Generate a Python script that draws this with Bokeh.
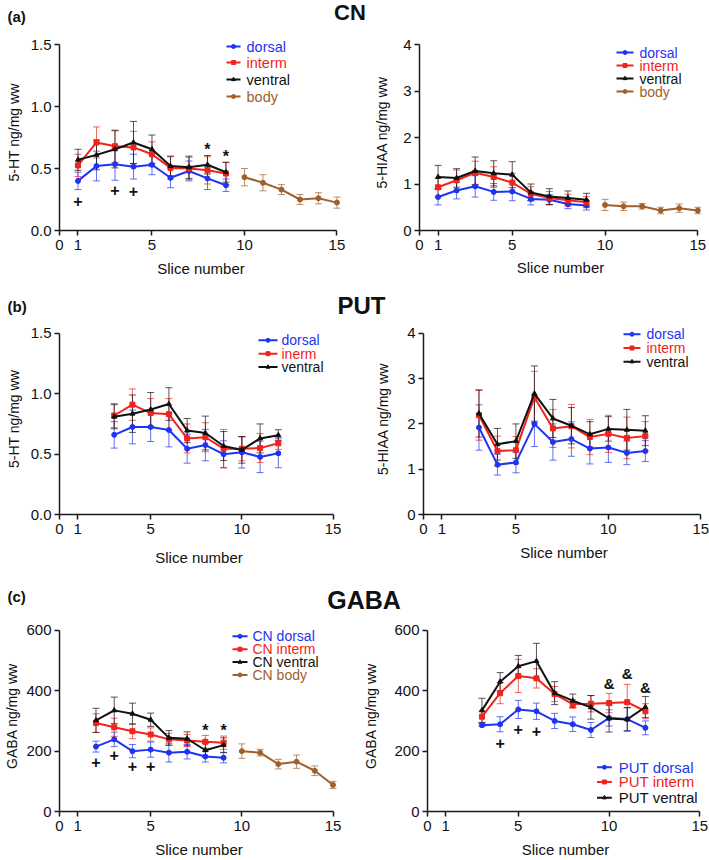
from bokeh.plotting import figure
from bokeh.models import Range1d, FixedTicker, Whisker, TeeHead, ColumnDataSource
from bokeh.layouts import column, row
from bokeh.embed import file_html
from bokeh.resources import INLINE
from bokeh.core.properties import value

# ---------------- data ----------------
x_ticks = [0, 1, 5, 10, 15]
x_tick_labels = ["0", "1", "5", "10", "15"]

ht_yticks = [0, 0.5, 1.0, 1.5]
ht_ytick_labels = ["0.0", "0.5", "1.0", "1.5"]
hiaa_yticks = [0, 1, 2, 3, 4]
hiaa_ytick_labels = ["0", "1", "2", "3", "4"]
gaba_yticks = [0, 200, 400, 600]
gaba_ytick_labels = ["0", "200", "400", "600"]

cn_slices = [1, 2, 3, 4, 5, 6, 7, 8, 9]
body_slices = [10, 11, 12, 13, 14, 15]
put_slices = [3, 4, 5, 6, 7, 8, 9, 10, 11, 12]
gaba_cn_slices = [2, 3, 4, 5, 6, 7, 8, 9]

# (a) 5-HT, CN
ht_cn_dorsal = [0.40, 0.52, 0.535, 0.515, 0.53, 0.425, 0.48, 0.42, 0.365]
ht_cn_dorsal_err = [0.07, 0.12, 0.13, 0.10, 0.08, 0.08, 0.08, 0.09, 0.05]
ht_cn_interm = [0.525, 0.71, 0.68, 0.67, 0.615, 0.505, 0.50, 0.485, 0.46]
ht_cn_interm_err = [0.09, 0.125, 0.13, 0.13, 0.10, 0.09, 0.09, 0.11, 0.09]
ht_cn_ventral = [0.57, 0.61, 0.655, 0.71, 0.655, 0.52, 0.51, 0.53, 0.47]
ht_cn_ventral_err = [0.085, 0.12, 0.15, 0.17, 0.115, 0.08, 0.09, 0.075, 0.08]
ht_cn_body = [0.43, 0.385, 0.33, 0.25, 0.26, 0.225]
ht_cn_body_err = [0.07, 0.065, 0.04, 0.04, 0.045, 0.045]
ht_cn_plus_x = [1, 3, 4]
ht_cn_plus_y = [0.235, 0.33, 0.32]
ht_cn_star_x = [8, 9]
ht_cn_star_y = [0.65, 0.60]

# (a) 5-HIAA, CN
hiaa_cn_dorsal = [0.72, 0.86, 0.95, 0.83, 0.84, 0.68, 0.66, 0.57, 0.54]
hiaa_cn_dorsal_err = [0.17, 0.18, 0.23, 0.18, 0.20, 0.13, 0.11, 0.10, 0.10]
hiaa_cn_interm = [0.93, 1.08, 1.24, 1.15, 1.03, 0.79, 0.70, 0.65, 0.61]
hiaa_cn_interm_err = [0.20, 0.22, 0.25, 0.22, 0.20, 0.15, 0.14, 0.13, 0.12]
hiaa_cn_ventral = [1.15, 1.13, 1.28, 1.23, 1.20, 0.82, 0.73, 0.70, 0.66]
hiaa_cn_ventral_err = [0.25, 0.20, 0.30, 0.27, 0.28, 0.18, 0.17, 0.15, 0.14]
hiaa_cn_body = [0.55, 0.52, 0.52, 0.43, 0.48, 0.43]
hiaa_cn_body_err = [0.12, 0.09, 0.06, 0.07, 0.09, 0.07]

# (b) 5-HT, PUT
ht_put_dorsal = [0.66, 0.725, 0.725, 0.70, 0.545, 0.575, 0.50, 0.515, 0.477, 0.507]
ht_put_dorsal_err = [0.11, 0.14, 0.12, 0.14, 0.12, 0.13, 0.11, 0.13, 0.13, 0.12]
ht_put_interm = [0.82, 0.91, 0.84, 0.83, 0.63, 0.64, 0.545, 0.545, 0.55, 0.59]
ht_put_interm_err = [0.10, 0.13, 0.12, 0.13, 0.12, 0.12, 0.16, 0.10, 0.12, 0.05]
ht_put_ventral = [0.81, 0.835, 0.87, 0.915, 0.695, 0.675, 0.567, 0.535, 0.63, 0.657]
ht_put_ventral_err = [0.10, 0.155, 0.14, 0.135, 0.10, 0.14, 0.12, 0.11, 0.12, 0.045]

# (b) 5-HIAA, PUT
hiaa_put_dorsal = [1.92, 1.10, 1.15, 2.00, 1.60, 1.665, 1.456, 1.48, 1.36, 1.40]
hiaa_put_dorsal_err = [0.50, 0.23, 0.23, 0.50, 0.40, 0.38, 0.34, 0.33, 0.26, 0.23]
hiaa_put_interm = [2.19, 1.40, 1.42, 2.59, 1.90, 1.95, 1.71, 1.78, 1.69, 1.73]
hiaa_put_interm_err = [0.55, 0.33, 0.30, 0.57, 0.42, 0.48, 0.39, 0.41, 0.46, 0.32]
hiaa_put_ventral = [2.23, 1.55, 1.62, 2.67, 2.12, 1.96, 1.77, 1.89, 1.87, 1.85]
hiaa_put_ventral_err = [0.52, 0.35, 0.38, 0.61, 0.42, 0.40, 0.28, 0.27, 0.45, 0.33]

# (c) GABA, CN
gaba_cn_dorsal = [215, 239, 200, 205, 195, 198, 182, 178]
gaba_cn_dorsal_err = [18, 24, 22, 25, 31, 24, 18, 17]
gaba_cn_interm = [293, 279, 266, 255, 239, 235, 231, 228]
gaba_cn_interm_err = [31, 30, 25, 22, 20, 20, 21, 22]
gaba_cn_ventral = [302, 335, 324, 304, 244, 241, 203, 220]
gaba_cn_ventral_err = [40, 44, 35, 22, 24, 23, 23, 24]
gaba_cn_body = [200, 195, 157, 165, 135, 88]
gaba_cn_body_err = [24, 11, 16, 22, 16, 12]
gaba_cn_plus_x = [2, 3, 4, 5]
gaba_cn_plus_y = [164, 186, 151, 151]
gaba_cn_star_x = [8, 9]
gaba_cn_star_y = [267, 267]

# (c) GABA, PUT
gaba_put_dorsal = [286, 289, 338, 332, 300, 289, 270, 310, 306, 277]
gaba_put_dorsal_err = [5, 25, 30, 27, 25, 24, 25, 27, 38, 23]
gaba_put_interm = [314, 392, 449, 441, 389, 356, 357, 359, 362, 332]
gaba_put_interm_err = [20, 35, 55, 32, 25, 14, 27, 32, 59, 25]
gaba_put_ventral = [335, 430, 481, 498, 392, 367, 345, 308, 305, 346]
gaba_put_ventral_err = [40, 30, 36, 59, 38, 22, 39, 45, 39, 35]
gaba_put_plus_x = [4, 5, 6]
gaba_put_plus_y = [226, 273, 268]
gaba_put_amp_x = [10, 11, 12]
gaba_put_amp_y = [424, 456, 412]

# ---------------- style ----------------
FONT = "Liberation Sans"
BLUE = "#1f33f2"
RED = "#f0241c"
BLACK = "#111111"
BROWN = "#a0602c"
TOP_PAD = 10  # px of frame above the top of the y axis


def make_panel(fig_w, fig_h, fig_x0, fig_y0, frame, xend, ymax, yticks, yticklabels,
               ylabel, series, legend, notes, ylab_standoff, xlab_standoff):
    left, top, right15, bottom = frame
    unit = (right15 - left) / 15.0
    bl = int(round(left - fig_x0))
    br = int(round(fig_w - bl - xend * unit))
    fw = fig_w - bl - br
    bt = int(round(top - TOP_PAD - fig_y0))
    bb = int(round(fig_y0 + fig_h - bottom))
    fh = fig_h - bt - bb
    yend = ymax * fh / float(bottom - top)

    p = figure(width=fig_w, height=fig_h, x_range=Range1d(0, xend), y_range=Range1d(0, yend),
               output_backend="svg", toolbar_location=None,
               min_border_left=bl, min_border_right=br, min_border_top=bt, min_border_bottom=bb)
    p.outline_line_color = None
    p.xgrid.visible = False
    p.ygrid.visible = False
    xa = p.xaxis[0]
    ya = p.yaxis[0]
    xa.ticker = FixedTicker(ticks=x_ticks)
    xa.major_label_overrides = {t: l for t, l in zip(x_ticks, x_tick_labels)}
    xa.bounds = (0, 15)
    ya.ticker = FixedTicker(ticks=yticks)
    ya.major_label_overrides = {t: l for t, l in zip(yticks, yticklabels)}
    ya.bounds = (0, ymax)
    xa.axis_label = "Slice number"
    ya.axis_label = ylabel
    for ax in (xa, ya):
        ax.axis_line_width = 1.5
        ax.axis_line_color = "#1a1a1a"
        ax.major_tick_line_width = 1.5
        ax.major_tick_line_color = "#1a1a1a"
        ax.major_tick_out = 5
        ax.major_tick_in = 0
        ax.minor_tick_line_color = None
        ax.major_label_text_font = FONT
        ax.major_label_text_font_size = "15px"
        ax.major_label_text_color = "#111111"
        ax.axis_label_text_font = FONT
        ax.axis_label_text_font_style = "normal"
        ax.axis_label_text_color = "#111111"
    xa.axis_label_text_font_size = "15px"
    ya.axis_label_text_font_size = "14px"
    xa.major_label_standoff = 4
    ya.major_label_standoff = 3
    xa.axis_label_standoff = xlab_standoff
    ya.axis_label_standoff = ylab_standoff

    for xs, ys, es, color, marker in series:
        src = ColumnDataSource(dict(x=xs, y=ys,
                                    lo=[y - e for y, e in zip(ys, es)],
                                    hi=[y + e for y, e in zip(ys, es)]))
        w = Whisker(source=src, base="x", upper="hi", lower="lo",
                    line_color=color, line_alpha=0.7, line_width=1,
                    upper_head=TeeHead(size=7, line_color=color, line_alpha=0.7, line_width=1),
                    lower_head=TeeHead(size=7, line_color=color, line_alpha=0.7, line_width=1))
        p.add_layout(w)
        p.line("x", "y", source=src, line_color=color, line_width=2)
        p.scatter("x", "y", source=src, marker=marker, size=5,
                  fill_color=color, line_color=color)

    # legend drawn as glyphs, positions given in page pixels and converted to data units
    gx0, gx1, tx, rows, fs, items = legend
    sx = xend / float(fw)
    sy = yend / float(fh)
    for ry, (label, color, marker) in zip(rows, items):
        yy = (bottom - ry) * sy
        p.segment(x0=[(gx0 - left) * sx], y0=[yy], x1=[(gx1 - left) * sx], y1=[yy],
                  line_color=color, line_width=2)
        p.scatter(x=[((gx0 + gx1) / 2.0 - left) * sx], y=[yy], marker=marker, size=4,
                  fill_color=color, line_color=color)
        p.text(x=[(tx - left) * sx], y=[yy], text=[label], text_font=value(FONT),
               text_font_size=fs, text_color=color, text_align="left", text_baseline="middle")

    for xs, ys, sym, fsz in notes:
        p.text(x=xs, y=ys, text=[sym] * len(xs), text_font=value(FONT),
               text_font_style="bold", text_font_size=fsz, text_align="center",
               text_baseline="middle", text_color="#111111")
    return p


def strip(h, items):
    s = figure(width=709, height=h, x_range=Range1d(0, 709), y_range=Range1d(h, 0),
               output_backend="svg", toolbar_location=None, min_border=0,
               x_axis_location=None, y_axis_location=None)
    s.outline_line_color = None
    s.xgrid.visible = False
    s.ygrid.visible = False
    for x, y, t, size, align in items:
        s.text(x=[x], y=[y], text=[t], text_font=value(FONT), text_font_style="bold",
               text_font_size=size, text_align=align, text_baseline="middle",
               text_color="#111111")
    return s


CN4 = [("dorsal", BLUE, "circle"), ("interm", RED, "square"),
       ("ventral", BLACK, "triangle"), ("body", BROWN, "circle")]

# ---------------- row (a) ----------------
strip_a = strip(30, [(7, 16, "(a)", "15px", "left"), (349.5, 12, "CN", "22px", "center")])

pa_l = make_panel(
    360, 260, 0, 30, (59, 44, 336, 230), 15.3, 1.5, ht_yticks, ht_ytick_labels, "5-HT ng/mg ww",
    [(cn_slices, ht_cn_dorsal, ht_cn_dorsal_err, BLUE, "circle"),
     (cn_slices, ht_cn_interm, ht_cn_interm_err, RED, "square"),
     (cn_slices, ht_cn_ventral, ht_cn_ventral_err, BLACK, "triangle"),
     (body_slices, ht_cn_body, ht_cn_body_err, BROWN, "circle")],
    (226, 240, 246, [46, 62, 79, 96], "14.5px", CN4),
    [(ht_cn_plus_x, ht_cn_plus_y, "+", "16px"), (ht_cn_star_x, ht_cn_star_y, "*", "16px")],
    6, 7)

pa_r = make_panel(
    349, 260, 360, 30, (419, 44, 697, 230), 15.2, 4, hiaa_yticks, hiaa_ytick_labels, "5-HIAA ng/mg ww",
    [(cn_slices, hiaa_cn_dorsal, hiaa_cn_dorsal_err, BLUE, "circle"),
     (cn_slices, hiaa_cn_interm, hiaa_cn_interm_err, RED, "square"),
     (cn_slices, hiaa_cn_ventral, hiaa_cn_ventral_err, BLACK, "triangle"),
     (body_slices, hiaa_cn_body, hiaa_cn_body_err, BROWN, "circle")],
    (616, 633, 639, [52, 65, 78, 91], "14px", CN4),
    [], 10, 6)

# ---------------- row (b) ----------------
strip_b = strip(28, [(7, 16, "(b)", "15px", "left"), (361, 15, "PUT", "24px", "center")])

pb_l = make_panel(
    360, 257, 0, 318, (59, 333, 333, 516), 15.3, 1.5, ht_yticks, ht_ytick_labels, "5-HT ng/mg ww",
    [(put_slices, ht_put_dorsal, ht_put_dorsal_err, BLUE, "circle"),
     (put_slices, ht_put_interm, ht_put_interm_err, RED, "square"),
     (put_slices, ht_put_ventral, ht_put_ventral_err, BLACK, "triangle")],
    (258, 277, 281, [340, 353.5, 367], "14px",
     [("dorsal", BLUE, "circle"), ("inerm", RED, "square"), ("ventral", BLACK, "triangle")]),
    [], 6, 12)

pb_r = make_panel(
    349, 257, 360, 318, (423, 329, 700, 514), 15.2, 4, hiaa_yticks, hiaa_ytick_labels, "5-HIAA ng/mg ww",
    [(put_slices, hiaa_put_dorsal, hiaa_put_dorsal_err, BLUE, "circle"),
     (put_slices, hiaa_put_interm, hiaa_put_interm_err, RED, "square"),
     (put_slices, hiaa_put_ventral, hiaa_put_ventral_err, BLACK, "triangle")],
    (623, 640, 646, [330, 344, 358], "14px",
     [("dorsal", BLUE, "circle"), ("interm", RED, "square"), ("ventral", BLACK, "triangle")]),
    [], 13, 7)

# ---------------- row (c) ----------------
strip_c = strip(37, [(7, 21, "(c)", "15px", "left"), (363.5, 24, "GABA", "25px", "center")])

pc_l = make_panel(
    360, 248, 0, 612, (59, 630, 333, 813), 15.3, 600, gaba_yticks, gaba_ytick_labels, "GABA ng/mg ww",
    [(gaba_cn_slices, gaba_cn_dorsal, gaba_cn_dorsal_err, BLUE, "circle"),
     (gaba_cn_slices, gaba_cn_interm, gaba_cn_interm_err, RED, "square"),
     (gaba_cn_slices, gaba_cn_ventral, gaba_cn_ventral_err, BLACK, "triangle"),
     (body_slices, gaba_cn_body, gaba_cn_body_err, BROWN, "circle")],
    (232, 247, 252, [636, 649, 662, 675], "14px",
     [("CN dorsal", BLUE, "circle"), ("CN interm", RED, "square"),
      ("CN ventral", BLACK, "triangle"), ("CN body", BROWN, "circle")]),
    [(gaba_cn_plus_x, gaba_cn_plus_y, "+", "16px"), (gaba_cn_star_x, gaba_cn_star_y, "*", "16px")],
    3, 7)

pc_r = make_panel(
    349, 248, 360, 612, (423, 628, 699, 812), 15.2, 600, gaba_yticks, gaba_ytick_labels, "GABA ng/mg ww",
    [(put_slices, gaba_put_dorsal, gaba_put_dorsal_err, BLUE, "circle"),
     (put_slices, gaba_put_interm, gaba_put_interm_err, RED, "square"),
     (put_slices, gaba_put_ventral, gaba_put_ventral_err, BLACK, "triangle")],
    (595, 610, 617, [767, 782, 798], "15px",
     [("PUT dorsal", BLUE, "circle"), ("PUT interm", RED, "square"), ("PUT ventral", BLACK, "triangle")]),
    [(gaba_put_plus_x, gaba_put_plus_y, "+", "16px"), (gaba_put_amp_x, gaba_put_amp_y, "&", "15px")],
    12, 7)

layout = column(strip_a, row(pa_l, pa_r), strip_b, row(pb_l, pb_r), strip_c, row(pc_l, pc_r))

open("out.html", "w").write(file_html(layout, INLINE))
